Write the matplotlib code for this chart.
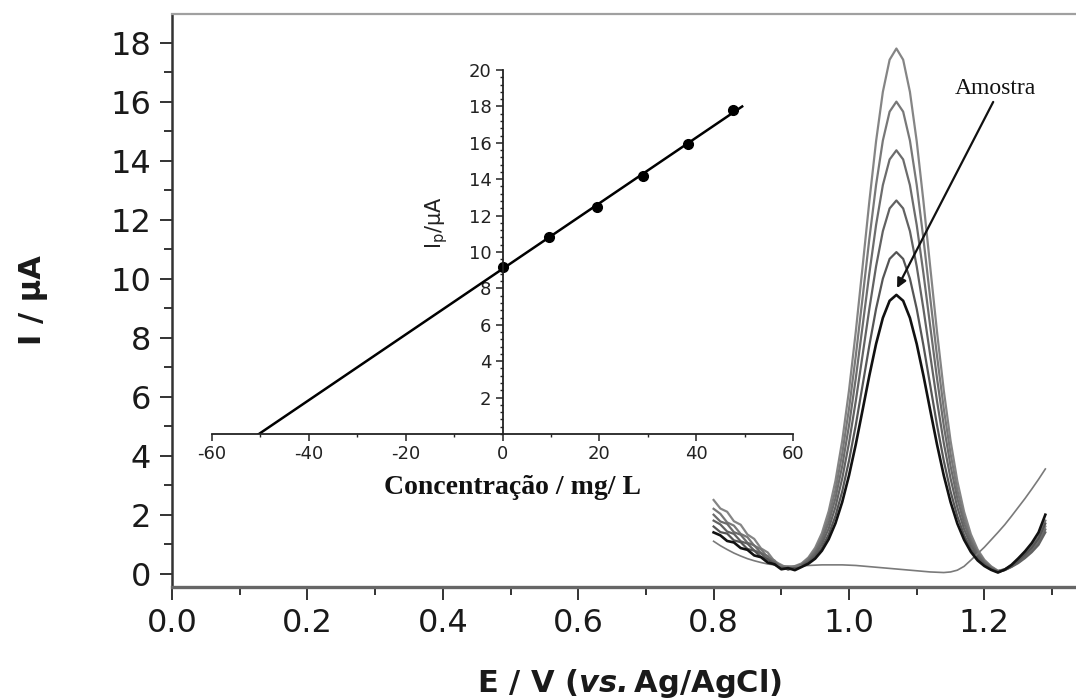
import numpy as np
import matplotlib
matplotlib.use('Agg')
import matplotlib.pyplot as plt
from matplotlib.ticker import MultipleLocator

plt.rcParams['font.family'] = ['DejaVu Sans']
plt.rcParams['axes.unicode_minus'] = False

# potential axis of the scans (V vs Ag/AgCl)
potential = np.linspace(0.80, 1.29, 50)

# voltammograms, tallest peak first, sample last
curve_1 = [2.50, 2.21, 2.10, 1.78, 1.66, 1.33, 1.18, 0.86, 0.72, 0.42,
           0.30, 0.18, 0.26, 0.35, 0.55, 0.88, 1.38, 2.12, 3.15, 4.51,
           6.21, 8.20, 10.39, 12.61, 14.66, 16.33, 17.42, 17.80, 17.42, 16.33,
           14.66, 12.61, 10.39, 8.20, 6.21, 4.51, 3.14, 2.10, 1.34, 0.82,
           0.47, 0.25, 0.10, 0.15, 0.25, 0.42, 0.61, 0.83, 1.12, 1.60]
curve_2 = [2.20, 2.03, 1.74, 1.63, 1.35, 1.24, 0.95, 0.83, 0.55, 0.45,
           0.21, 0.23, 0.19, 0.33, 0.51, 0.80, 1.25, 1.92, 2.84, 4.07,
           5.59, 7.38, 9.34, 11.34, 13.18, 14.68, 15.66, 16.00, 15.66, 14.68,
           13.18, 11.34, 9.34, 7.38, 5.59, 4.07, 2.83, 1.90, 1.21, 0.74,
           0.43, 0.23, 0.09, 0.15, 0.28, 0.47, 0.68, 0.94, 1.26, 1.80]
curve_3 = [2.00, 1.77, 1.69, 1.41, 1.32, 1.05, 0.96, 0.70, 0.60, 0.35,
           0.26, 0.15, 0.24, 0.30, 0.46, 0.73, 1.13, 1.73, 2.56, 3.65,
           5.02, 6.62, 8.38, 10.17, 11.82, 13.17, 14.04, 14.35, 14.04, 13.17,
           11.82, 10.17, 8.38, 6.62, 5.02, 3.65, 2.55, 1.71, 1.09, 0.67,
           0.38, 0.20, 0.08, 0.13, 0.24, 0.39, 0.57, 0.78, 1.05, 1.50]
curve_4 = [1.80, 1.67, 1.43, 1.35, 1.10, 1.02, 0.79, 0.69, 0.47, 0.39,
           0.18, 0.21, 0.16, 0.28, 0.42, 0.65, 1.01, 1.53, 2.26, 3.23,
           4.43, 5.85, 7.40, 8.97, 10.42, 11.61, 12.38, 12.65, 12.38, 11.61,
           10.42, 8.97, 7.40, 5.85, 4.43, 3.23, 2.25, 1.51, 0.97, 0.59,
           0.34, 0.18, 0.07, 0.12, 0.23, 0.36, 0.53, 0.73, 0.98, 1.40]
curve_5 = [1.60, 1.41, 1.36, 1.13, 1.07, 0.84, 0.78, 0.57, 0.49, 0.30,
           0.24, 0.14, 0.20, 0.25, 0.38, 0.57, 0.88, 1.33, 1.96, 2.79,
           3.83, 5.04, 6.38, 7.73, 8.98, 10.00, 10.67, 10.90, 10.67, 10.00,
           8.98, 7.73, 6.38, 5.04, 3.83, 2.79, 1.95, 1.31, 0.84, 0.51,
           0.30, 0.15, 0.05, 0.13, 0.26, 0.44, 0.65, 0.88, 1.19, 1.70]
sample = [1.40, 1.30, 1.11, 1.06, 0.87, 0.81, 0.62, 0.56, 0.38, 0.32,
          0.15, 0.19, 0.12, 0.23, 0.34, 0.51, 0.78, 1.17, 1.71, 2.43,
          3.33, 4.38, 5.54, 6.71, 7.79, 8.67, 9.25, 9.45, 9.25, 8.67,
          7.79, 6.71, 5.54, 4.38, 3.33, 2.43, 1.70, 1.15, 0.74, 0.45,
          0.26, 0.13, 0.04, 0.14, 0.30, 0.52, 0.76, 1.04, 1.40, 2.00]
blank = [1.10, 0.95, 0.82, 0.70, 0.60, 0.51, 0.44, 0.38, 0.33, 0.30,
         0.27, 0.26, 0.26, 0.27, 0.28, 0.29, 0.30, 0.30, 0.30, 0.30,
         0.29, 0.28, 0.26, 0.24, 0.22, 0.20, 0.18, 0.16, 0.14, 0.12,
         0.10, 0.08, 0.06, 0.05, 0.04, 0.06, 0.12, 0.25, 0.46, 0.68,
         0.90, 1.15, 1.40, 1.66, 1.95, 2.25, 2.55, 2.87, 3.20, 3.55]

# standard addition (inset)
conc = [0.0, 9.6, 19.5, 29.0, 38.3, 47.6]
ip = [9.17, 10.82, 12.49, 14.18, 15.93, 17.80]
fit_range = [-50.6, 49.5]

W, H = 1076, 699
fig = plt.figure(figsize=(W / 100, H / 100), dpi=100)

# main axes
ax = fig.add_axes([172 / W, 1 - 587 / H, (W - 172) / W, (587 - 14) / H])
ax.set_xlim(0, 1.3353)
ax.set_ylim(-0.45, 18.97)

grays = ['#858585', '#787878', '#6c6c6c', '#626262', '#555555']
for ys, c in zip([curve_1, curve_2, curve_3, curve_4, curve_5], grays):
    ax.plot(potential, ys, color=c, lw=1.6)
ax.plot(potential, blank, color='#7a7a7a', lw=1.2)
ax.plot(potential, sample, color='#111111', lw=1.9)

ax.annotate('', xy=(1.071, 9.68), xytext=(1.213, 15.99),
            arrowprops=dict(arrowstyle='-|>', color='#111111', lw=1.6,
                            mutation_scale=14, shrinkA=0, shrinkB=0))
ax.text(1.216, 16.46, 'Amostra', family='Liberation Serif', fontsize=17,
        ha='center', va='center', color='#111111')

ax.xaxis.set_major_locator(MultipleLocator(0.2))
ax.xaxis.set_minor_locator(MultipleLocator(0.1))
ax.yaxis.set_major_locator(MultipleLocator(2))
ax.yaxis.set_minor_locator(MultipleLocator(1))
ax.xaxis.set_major_formatter(lambda v, p: f'{v:.1f}')
ax.tick_params(which='major', direction='out', length=9, width=1.4,
               color='#333333', labelsize=23, labelcolor='#1a1a1a', pad=6)
ax.tick_params(which='minor', direction='out', length=5.5, width=1.4,
               color='#333333')
ax.spines['right'].set_visible(False)
ax.spines['top'].set_color('#a0a0a0')
ax.spines['top'].set_linewidth(1.6)
ax.spines['left'].set_color('#333333')
ax.spines['left'].set_linewidth(1.8)
ax.spines['bottom'].set_color('#666666')
ax.spines['bottom'].set_linewidth(2.4)

fig.text(34 / W, 1 - 300 / H, 'I / μA', rotation=90, fontsize=22,
         fontweight='bold', ha='center', va='center', color='#1a1a1a')
fig.text(630 / W, 1 - 683 / H, r'E / V ($\mathbfit{vs.}$Ag/AgCl)',
         fontsize=22, fontweight='bold', ha='center', va='center',
         color='#1a1a1a')

# inset calibration
ax_in = fig.add_axes([212 / W, 1 - 434 / H, 581 / W, 364 / H], facecolor='none')
ax_in.set_xlim(-60, 60)
ax_in.set_ylim(0, 20)
slope, icpt = np.polyfit(conc, ip, 1)
ax_in.plot(fit_range, [slope * v + icpt for v in fit_range], color='k', lw=1.8)
ax_in.plot(conc, ip, 'o', color='k', ms=7)

ax_in.spines['top'].set_visible(False)
ax_in.spines['right'].set_visible(False)
ax_in.spines['left'].set_position(('data', 0))
for s in ('left', 'bottom'):
    ax_in.spines[s].set_color('#222222')
    ax_in.spines[s].set_linewidth(1.3)
ax_in.set_xticks(range(-60, 61, 20))
ax_in.xaxis.set_minor_locator(MultipleLocator(10))
ax_in.set_yticks(range(2, 21, 2))
ax_in.yaxis.set_minor_locator(MultipleLocator(0.4))
ax_in.tick_params(which='major', direction='out', length=5, width=1.1,
                  color='#222222', labelsize=13, labelcolor='#222222', pad=3)
ax_in.tick_params(which='minor', direction='out', length=2.5, width=1.0,
                  color='#222222')

fig.text(437 / W, 1 - 223 / H, r'I$_\mathregular{p}$/μA', rotation=90,
         fontsize=15, ha='center', va='center', color='#222222')
fig.text(512 / W, 1 - 488 / H, 'Concentração / mg/ L', family='Liberation Serif',
         fontweight='bold', fontsize=20, ha='center', va='center', color='#111111')

fig.savefig('out.png', dpi=100)
